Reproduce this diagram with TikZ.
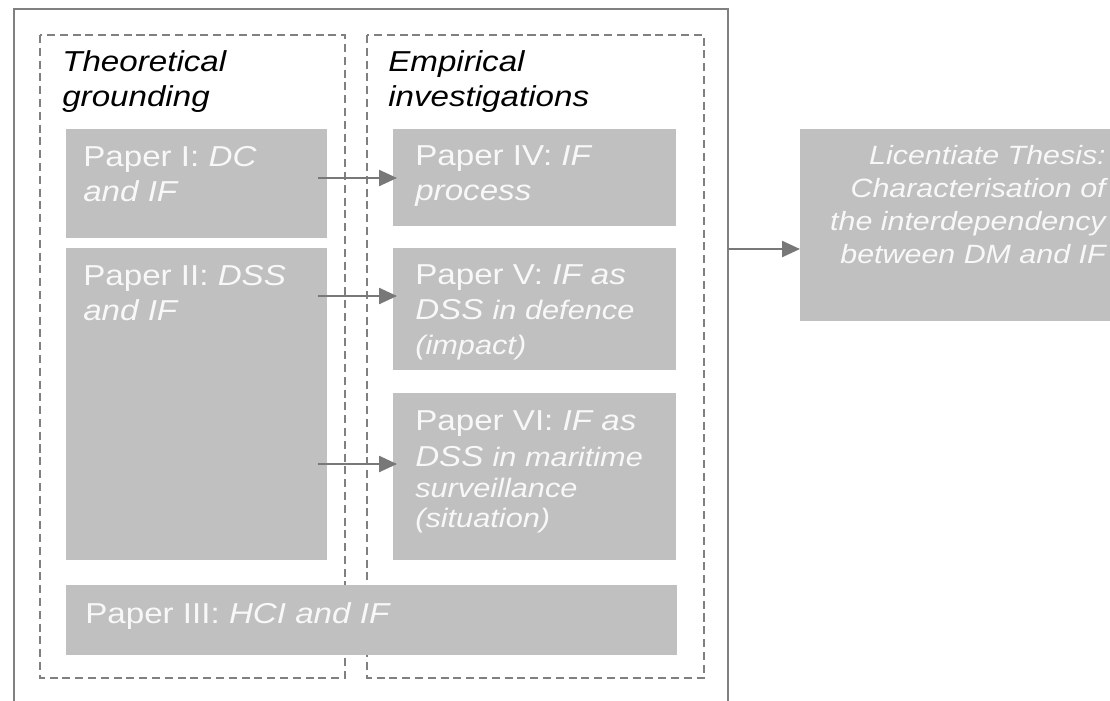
\documentclass[tikz,border=0pt]{standalone}
\usepackage{fontspec}
\setmainfont{Liberation Sans}[FakeStretch=1.15]
\usetikzlibrary{arrows.meta}

\definecolor{boxgray}{HTML}{C0C0C0}
\definecolor{linegray}{HTML}{808080}
\definecolor{arrowgray}{HTML}{787878}
\definecolor{papertext}{HTML}{F8F8F8}
\newcommand{\smallpart}{\fontsize{19}{22}\selectfont}

\begin{document}
\begin{tikzpicture}[x=0.025cm, y=-0.025cm,
  paperbox/.style={fill=boxgray, draw=none, anchor=north west, inner sep=0pt},
  papertxt/.style={anchor=north west, inner sep=0pt, align=left, text=papertext,
    font=\fontsize{20.5}{25}\selectfont},
  titletxt/.style={anchor=north west, inner sep=0pt, align=left,
    font=\fontsize{20.5}{25}\selectfont\itshape},
  groupframe/.style={draw=linegray, line width=1pt, dash pattern=on 5.7pt off 3.4pt},
  link/.style={-{Triangle[length=0.45cm, width=0.4cm]}, draw=arrowgray, line width=1.7pt}]
  \useasboundingbox (0,0) rectangle (1110,700);

  % outer frame and the two groups
  \draw[linegray, line width=0.8pt] (14,9) rectangle (728,712);
  \draw[groupframe] (40,35) rectangle (345,678);
  \draw[groupframe] (367,35) rectangle (704,678);

  \node[titletxt] (theory) at (62,50) {Theoretical\\ grounding};
  \node[titletxt] (empiric) at (388,50) {Empirical\\ investigations};

  % theoretical papers
  \node[paperbox, minimum width=6.525cm, minimum height=2.725cm] (p1) at (66,129) {};
  \node[paperbox, minimum width=6.525cm, minimum height=7.8cm] (p2) at (66,248) {};
  \node[paperbox, minimum width=15.275cm, minimum height=1.75cm] (p3) at (66,585) {};

  % empirical papers
  \node[paperbox, minimum width=7.075cm, minimum height=2.425cm] (p4) at (393,129) {};
  \node[paperbox, minimum width=7.075cm, minimum height=3.05cm] (p5) at (393,248) {};
  \node[paperbox, minimum width=7.075cm, minimum height=4.175cm] (p6) at (393,393) {};

  % thesis
  \node[paperbox, minimum width=9cm, minimum height=4.8cm] (thesis) at (800,129) {};

  % texts
  \node[papertxt] (t1) at ([shift={(17,17)}]p1.north west) {Paper I: \textit{DC}\\ \textit{and IF}};
  \node[papertxt] (t2) at ([shift={(17,17)}]p2.north west) {Paper II: \textit{DSS}\\ \textit{and IF}};
  \node[papertxt] (t3) at ([shift={(19,17)}]p3.north west) {Paper III: \textit{HCI and IF}};
  \node[papertxt] (t4) at ([shift={(22,16)}]p4.north west) {Paper IV: \textit{IF}\\ \textit{process}};
  \node[papertxt] (t5) at ([shift={(22,16)}]p5.north west)
    {Paper V: \textit{IF as}\\ \textit{DSS {\smallpart in defence}}\\[0pt] {\smallpart\itshape (impact)}};
  \node[papertxt] (t6) at ([shift={(22,17)}]p6.north west)
    {Paper VI: \textit{IF as}\\[1pt] \textit{DSS {\smallpart in maritime}}\\[-3pt]
     {\smallpart\itshape surveillance}\\[-4pt] {\smallpart\itshape (situation)}};
  \node[papertxt, anchor=north east, align=right, font=\fontsize{18.8}{23.5}\selectfont\itshape]
    (t7) at (1106,145) {Licentiate Thesis:\\ Characterisation of\\ the interdependency\\ between DM and IF};

  % arrows
  \coordinate (a1) at (318,178);
  \coordinate (a2) at (318,296);
  \coordinate (a3) at (318,464);
  \coordinate (a4) at (728,249);
  \draw[link] (a1) -- ([xshift=0.1cm]a1 -| p4.west);
  \draw[link] (a2) -- ([xshift=0.1cm]a2 -| p5.west);
  \draw[link] (a3) -- ([xshift=0.1cm]a3 -| p6.west);
  \draw[link] (a4) -- (a4 -| thesis.west);
\end{tikzpicture}
\end{document}
